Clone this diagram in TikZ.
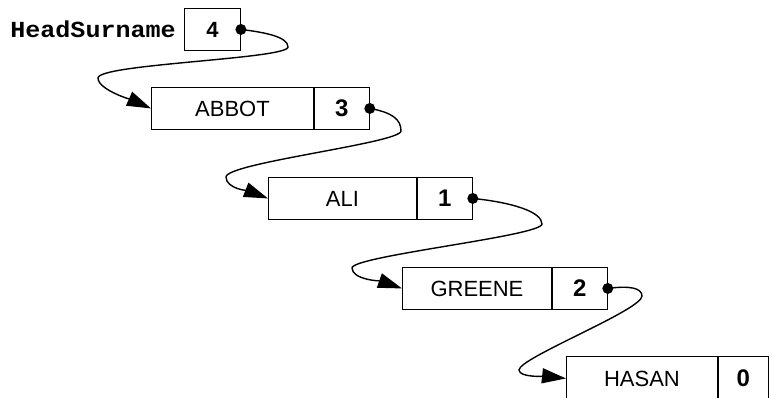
\documentclass[tikz,border=0pt]{standalone}
\usepackage{fontspec}
\setmainfont{Liberation Sans}
\newfontfamily\codefont{Liberation Mono}
\usetikzlibrary{arrows.meta}

\begin{document}
\begin{tikzpicture}[x=1pt,y=-1pt,
  cell/.style={draw, line width=0.9pt, inner sep=0pt, anchor=north west,
    minimum height=42pt, font=\fontsize{22}{24}\selectfont},
  ptr/.style={cell, minimum width=55pt, font=\fontsize{24}{26}\selectfont\bfseries},
  link/.style={line width=1.4pt, -{Triangle[length=24pt,width=15pt]}},
  dot/.style={radius=5.5pt}
]
\useasboundingbox (0,0) rectangle (774,398);

% head pointer
\node[ptr, minimum width=56pt, font=\fontsize{22}{24}\selectfont\bfseries] (headp) at (184,8) {4};
\node[anchor=east, inner sep=0pt, font=\codefont\bfseries\fontsize{23}{25}\selectfont]
  (headlabel) at (176,29) {\scalebox{1.09}[1]{HeadSurname}};

% records: surname cell followed by its pointer cell
\node[cell, minimum width=162pt] (abbot) at (151,87) {ABBOT};
\node[ptr] (abbotp) at (abbot.north east) {3};

\node[cell, minimum width=148pt] (ali) at (268,177) {ALI};
\node[ptr] (alip) at (ali.north east) {1};

\node[cell, minimum width=149pt] (greene) at (402,267) {GREENE};
\node[ptr] (greenep) at (greene.north east) {2};

\node[cell, minimum width=151pt, minimum height=44pt] (hasan) at (566,356) {HASAN};
\node[ptr, minimum width=50pt, minimum height=44pt] (hasanp) at (hasan.north east) {0};

% turning points of the links
\coordinate (r1) at (288,47);  \coordinate (l1) at (98,78);
\coordinate (r2) at (401,131); \coordinate (l2) at (226,177);
\coordinate (r3) at (542,224); \coordinate (l3) at (352,268);
\coordinate (r4) at (642,296); \coordinate (l4) at (519,370);

\draw[link] (headp.east) .. controls +(25,3) and +(0,-10) .. (r1)
  .. controls +(0,12) and +(0,-14) .. (l1)
  .. controls +(0,12) and +(-18,-8) .. (abbot.west);
\draw[link] (abbotp.east) .. controls +(22,4) and +(0,-12) .. (r2)
  .. controls +(0,12) and +(0,-14) .. (l2)
  .. controls +(0,12) and +(-18,-7) .. (ali.west);
\draw[link] (alip.east) .. controls +(40,4) and +(0,-12) .. (r3)
  .. controls +(0,12) and +(0,-12) .. (l3)
  .. controls +(0,12) and +(-20,-7) .. (greene.west);
\draw[link] (greenep.east) .. controls +(22,-3) and +(0,-8) .. (r4)
  .. controls +(0,14) and +(0,-12) .. (l4)
  .. controls +(0,8) and +(-18,-2) .. (hasan.west);

% pointer dots
\fill[dot] (headp.east) circle;
\fill[dot] (abbotp.east) circle;
\fill[dot] (alip.east) circle;
\fill[dot] (greenep.east) circle;
\end{tikzpicture}
\end{document}
